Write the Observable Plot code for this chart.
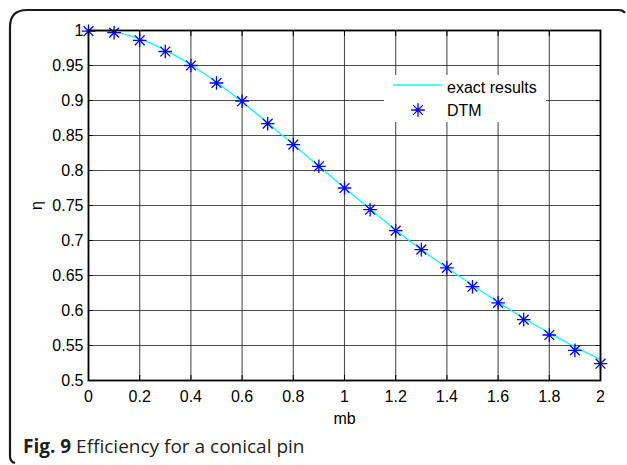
<!DOCTYPE html>
<html>
<head>
<meta charset="utf-8">
<script src="https://cdn.jsdelivr.net/npm/d3@7"></script>
<script src="https://cdn.jsdelivr.net/npm/@observablehq/plot@0.6"></script>
<style>
  html, body { margin: 0; padding: 0; background: #fff; }
  #wrap { position: relative; width: 627px; height: 465px; overflow: hidden; }
  #chart { position: absolute; left: 0; top: 0; }
  #frame { position: absolute; left: 0; top: 0; }
  #legend { position: absolute; left: 384px; top: 75px; width: 162px; height: 47px; background: #fff; }
  #caption { position: absolute; left: 23px; top: 433px; font-family: "Open Sans", sans-serif; font-size: 19px; color: #231f20; white-space: nowrap; }
  #caption b { font-weight: 700; }
</style>
</head>
<body>
<div id="wrap">
  <div id="chart"></div>
  <svg id="frame" width="627" height="465"><path d="M 15 463 Q 10 462 10 456 L 10 27 Q 10 10 27 10 L 619 10 Q 623 10 625 13" fill="none" stroke="#1a1a1a" stroke-width="2.2"/></svg>
  <div id="legend"></div>
  <div id="caption"><b>Fig. 9</b> Efficiency for a conical pin</div>
</div>
<script>
// Data
const mb = [0, 0.1, 0.2, 0.3, 0.4, 0.5, 0.6, 0.7, 0.8, 0.9, 1.0, 1.1, 1.2, 1.3, 1.4, 1.5, 1.6, 1.7, 1.8, 1.9, 2.0];
const etaExact = [1.000, 0.998, 0.988, 0.972, 0.951, 0.926, 0.898, 0.868, 0.837, 0.806, 0.775, 0.745, 0.715, 0.687, 0.661, 0.636, 0.612, 0.589, 0.568, 0.548, 0.530];
const etaDTM = [0.999, 0.997, 0.986, 0.970, 0.950, 0.925, 0.899, 0.867, 0.837, 0.806, 0.775, 0.744, 0.714, 0.687, 0.661, 0.634, 0.611, 0.587, 0.565, 0.543, 0.524];
const xTicks = [0, 0.2, 0.4, 0.6, 0.8, 1, 1.2, 1.4, 1.6, 1.8, 2];
const yTicks = [0.5, 0.55, 0.6, 0.65, 0.7, 0.75, 0.8, 0.85, 0.9, 0.95, 1];
const legendLabels = ["exact results", "DTM"];

const exactData = mb.map((x, i) => ({x, y: etaExact[i]}));
const dtmData = mb.map((x, i) => ({x, y: etaDTM[i]}));
const fmt = d => String(+d.toFixed(2));

// MATLAB-like '*' marker: plus + diagonal cross
const star = {
  draw(context, size) {
    const r = Math.sqrt(size / Math.PI);
    const d = r * 0.72;
    context.moveTo(-r, 0); context.lineTo(r, 0);
    context.moveTo(0, -r); context.lineTo(0, r);
    context.moveTo(-d, -d); context.lineTo(d, d);
    context.moveTo(-d, d); context.lineTo(d, -d);
  }
};

const plot = Plot.plot({
  width: 627,
  height: 465,
  marginLeft: 88,
  marginRight: 27,
  marginTop: 30,
  marginBottom: 85,
  style: {fontFamily: "'Liberation Sans', Arial, sans-serif", fontSize: "16px", color: "#000", background: "transparent"},
  x: {domain: [0, 2]},
  y: {domain: [0.5, 1]},
  marks: [
    Plot.gridX(xTicks, {stroke: "#222", strokeOpacity: 0.8, strokeWidth: 1.1}),
    Plot.gridY(yTicks, {stroke: "#222", strokeOpacity: 0.8, strokeWidth: 1.1}),
    Plot.line(exactData, {x: "x", y: "y", stroke: "#00ffff", strokeWidth: 1.3, curve: "catmull-rom"}),
    Plot.dot(dtmData, {x: "x", y: "y", symbol: star, r: 6.8, stroke: "#0000ff", strokeWidth: 1.3, fill: "none"}),
    Plot.axisX(xTicks, {anchor: "bottom", tickSize: -5, tickPadding: 15, tickFormat: fmt, label: "mb", labelAnchor: "center", labelArrow: "none", labelOffset: 43, fontSize: 16}),
    Plot.axisX(xTicks, {anchor: "top", tickSize: -5, tickFormat: () => "", label: null}),
    Plot.axisY(yTicks, {anchor: "left", tickSize: -5, tickPadding: 10, tickFormat: fmt, label: "η", labelAnchor: "center", labelArrow: "none", labelOffset: 58, fontSize: 16}),
    Plot.axisY(yTicks, {anchor: "right", tickSize: -5, tickFormat: () => "", label: null}),
    Plot.frame({stroke: "#000", strokeWidth: 1.8})
  ]
});
document.getElementById("chart").appendChild(plot);

// Legend
const lg = d3.select("#legend").append("svg").attr("width", 162).attr("height", 47)
  .style("font-family", "'Liberation Sans', Arial, sans-serif").style("font-size", "16px");
lg.append("line").attr("x1", 9).attr("x2", 58).attr("y1", 10).attr("y2", 10)
  .attr("stroke", "#00ffff").attr("stroke-width", 1.3);
lg.append("path").attr("transform", "translate(34,35)")
  .attr("d", d3.symbol(star, Math.PI * 6.8 * 6.8)())
  .attr("stroke", "#0000ff").attr("stroke-width", 1.3).attr("fill", "none");
lg.selectAll("text").data(legendLabels).join("text")
  .attr("x", 63).attr("y", (d, i) => i === 0 ? 17.5 : 41)
  .text(d => d);
</script>
</body>
</html>
